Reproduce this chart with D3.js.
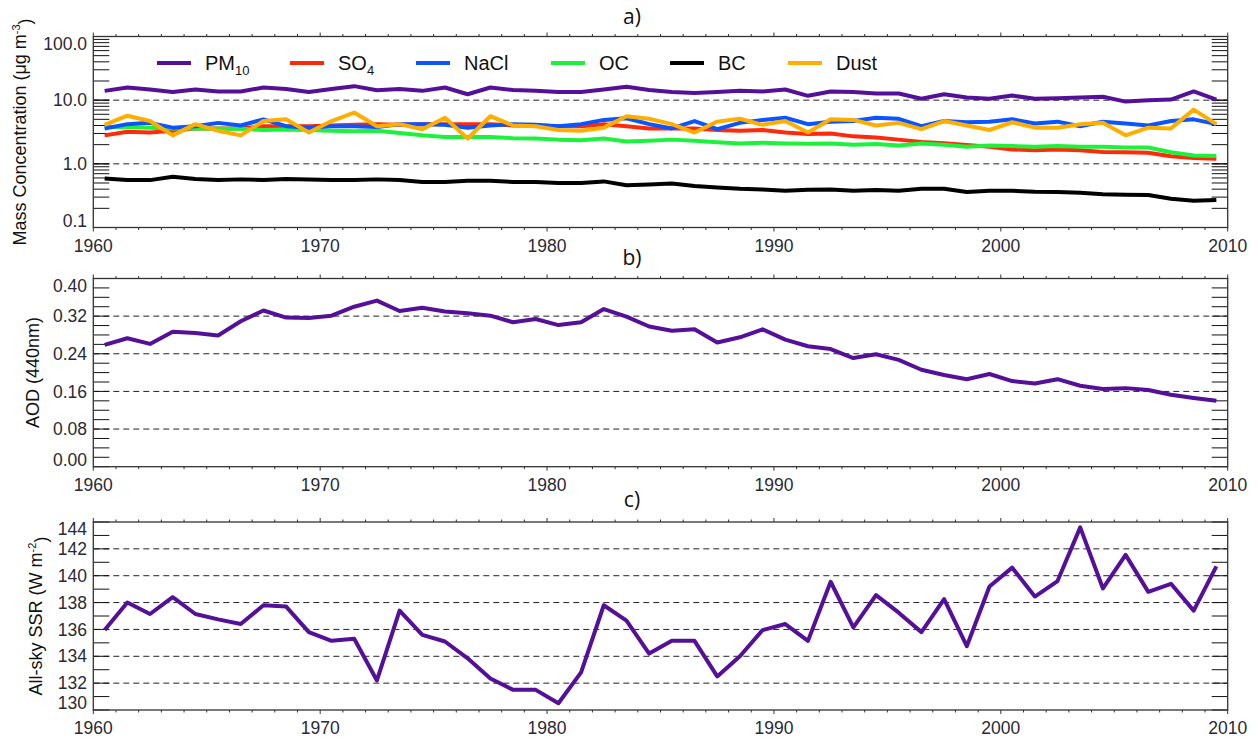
<!DOCTYPE html>
<html>
<head>
<meta charset="utf-8">
<script src="https://cdn.jsdelivr.net/npm/d3@7"></script>
<style>
  body { margin: 0; background: #fff; }
  svg { display: block; }
  text { font-family: "Liberation Sans", Arial, sans-serif; }
</style>
</head>
<body>
<svg id="chart" width="1258" height="742"></svg>
<script>
// ---------------- DATA ----------------
const years = d3.range(1960, 2010);
const pm10 = [14.0, 15.8, 14.7, 13.4, 14.7, 13.7, 13.7, 15.8, 15.0, 13.4, 15.0, 16.6, 14.3, 15.0, 14.0, 15.8, 12.4, 15.8, 14.4, 14.0, 13.4, 13.4, 14.7, 16.2, 14.4, 13.4, 13.0, 13.4, 14.0, 13.7, 14.7, 11.7, 13.7, 13.4, 12.7, 12.7, 10.5, 12.4, 11.0, 10.5, 11.8, 10.5, 10.7, 11.0, 11.3, 9.5, 10.0, 10.2, 13.7, 10.2];
const so4 = [2.8, 3.2, 3.1, 3.3, 3.6, 3.6, 3.6, 3.9, 3.9, 3.9, 4.0, 4.1, 4.2, 4.1, 4.2, 4.2, 4.2, 4.2, 4.0, 4.0, 3.9, 3.9, 4.2, 3.9, 3.6, 3.6, 3.6, 3.4, 3.3, 3.4, 3.1, 2.95, 3.0, 2.7, 2.6, 2.4, 2.2, 2.1, 1.97, 1.85, 1.68, 1.64, 1.68, 1.64, 1.54, 1.52, 1.49, 1.32, 1.23, 1.2];
const nacl = [3.6, 4.2, 4.4, 3.7, 3.9, 4.4, 4.0, 5.0, 3.9, 3.7, 3.9, 3.9, 3.8, 4.2, 4.2, 4.1, 3.7, 4.0, 4.2, 4.1, 3.9, 4.2, 4.9, 5.2, 4.2, 3.6, 4.7, 3.5, 4.4, 4.9, 5.3, 4.2, 4.6, 4.7, 5.3, 5.1, 3.9, 4.7, 4.5, 4.6, 5.0, 4.3, 4.6, 3.9, 4.6, 4.3, 4.0, 4.7, 5.0, 4.2];
const oc = [3.8, 3.8, 3.7, 3.6, 3.6, 3.55, 3.55, 3.4, 3.45, 3.4, 3.3, 3.25, 3.3, 3.05, 2.8, 2.65, 2.65, 2.65, 2.53, 2.5, 2.4, 2.35, 2.5, 2.24, 2.3, 2.4, 2.3, 2.19, 2.09, 2.14, 2.09, 2.07, 2.09, 1.99, 2.05, 1.94, 2.09, 1.99, 1.85, 1.94, 1.9, 1.85, 1.9, 1.85, 1.85, 1.81, 1.81, 1.52, 1.35, 1.33];
const bc = [0.59, 0.555, 0.555, 0.625, 0.58, 0.555, 0.57, 0.555, 0.58, 0.57, 0.555, 0.555, 0.57, 0.555, 0.52, 0.52, 0.54, 0.54, 0.52, 0.52, 0.50, 0.50, 0.53, 0.46, 0.475, 0.49, 0.45, 0.425, 0.405, 0.395, 0.377, 0.39, 0.395, 0.377, 0.387, 0.377, 0.405, 0.405, 0.36, 0.377, 0.377, 0.364, 0.36, 0.35, 0.334, 0.327, 0.323, 0.282, 0.263, 0.27];
const dust = [4.1, 5.7, 4.7, 2.8, 4.2, 3.3, 2.8, 4.7, 5.0, 3.1, 4.7, 6.4, 3.9, 4.2, 3.5, 5.3, 2.5, 5.6, 4.0, 3.9, 3.4, 3.3, 3.7, 5.6, 5.1, 4.2, 3.1, 4.6, 5.1, 4.1, 4.7, 3.1, 5.0, 4.9, 4.0, 4.4, 3.5, 4.7, 4.0, 3.4, 4.5, 3.7, 3.7, 4.2, 4.4, 2.8, 3.7, 3.6, 7.1, 4.2];
const aod = [0.259, 0.273, 0.261, 0.287, 0.284, 0.279, 0.309, 0.332, 0.317, 0.316, 0.321, 0.340, 0.353, 0.331, 0.338, 0.330, 0.326, 0.321, 0.307, 0.314, 0.301, 0.307, 0.335, 0.319, 0.298, 0.289, 0.292, 0.264, 0.275, 0.292, 0.270, 0.256, 0.250, 0.231, 0.239, 0.227, 0.206, 0.195, 0.186, 0.197, 0.182, 0.177, 0.186, 0.172, 0.165, 0.167, 0.163, 0.153, 0.146, 0.140];
const ssr = [135.96, 138.0, 137.15, 138.4, 137.15, 136.75, 136.4, 137.8, 137.7, 135.8, 135.15, 135.3, 132.2, 137.4, 135.6, 135.1, 133.85, 132.35, 131.5, 131.5, 130.5, 132.8, 137.8, 136.65, 134.2, 135.15, 135.15, 132.5, 134.0, 135.95, 136.4, 135.15, 139.55, 136.15, 138.55, 137.25, 135.8, 138.25, 134.75, 139.2, 140.6, 138.45, 139.6, 143.6, 139.05, 141.55, 138.8, 139.4, 137.4, 140.7];

const xTickYears = [1960, 1970, 1980, 1990, 2000, 2010];
const massTicks = [0.1, 1.0, 10.0, 100.0];
const massTickLabels = ["0.1", "1.0", "10.0", "100.0"];
const massGrid = [1, 10];
const aodTicks = [0, 0.08, 0.16, 0.24, 0.32, 0.40];
const aodGrid = [0.08, 0.16, 0.24, 0.32];
const ssrTicks = [130, 132, 134, 136, 138, 140, 142, 144];
const ssrGrid = [132, 134, 136, 138, 140, 142];

const seriesNames = ["PM10", "SO4", "NaCl", "OC", "BC", "Dust"];
const seriesColors = ["#55109a", "#ff2a0a", "#0a55ff", "#1cf23c", "#000000", "#ffae00"];
const seriesData = [pm10, so4, nacl, oc, bc, dust];

// ---------------- LAYOUT ----------------
const svg = d3.select("#chart");
const X0 = 93.3, X1 = 1227.7;
const x = d3.scaleLinear().domain([1960, 2010]).range([X0, X1]);
const frameColor = "#333";
const tickTextColor = "#2a2a35";
const tickFont = 17.5;
const labelFont = 18;

function panel(opts) {
  const { y, top, bottom, yTicks, yTickFmt, minorTicks, grid, title, titleY, ylabel, ylabelX } = opts;
  const g = svg.append("g");

  g.selectAll(".grid").data(grid).enter().append("line")
    .attr("x1", X0).attr("x2", X1)
    .attr("y1", d => y(d)).attr("y2", d => y(d))
    .attr("stroke", "#222").attr("stroke-width", 1)
    .attr("stroke-dasharray", "6,4");

  g.selectAll(".ytl").data(minorTicks).enter().append("line")
    .attr("x1", X0).attr("x2", X0 + 16)
    .attr("y1", d => y(d)).attr("y2", d => y(d))
    .attr("stroke", "#111").attr("stroke-width", 1);
  g.selectAll(".ytr").data(minorTicks).enter().append("line")
    .attr("x1", X1).attr("x2", X1 - 16)
    .attr("y1", d => y(d)).attr("y2", d => y(d))
    .attr("stroke", "#111").attr("stroke-width", 1);

  const yrs = d3.range(1960, 2011);
  yrs.forEach(yr => {
    const major = yr % 10 === 0;
    const len = major ? 4 : 2.5;
    g.append("line").attr("x1", x(yr)).attr("x2", x(yr))
      .attr("y1", top).attr("y2", top - len).attr("stroke", frameColor).attr("stroke-width", 1);
    g.append("line").attr("x1", x(yr)).attr("x2", x(yr))
      .attr("y1", bottom).attr("y2", bottom + len).attr("stroke", frameColor).attr("stroke-width", 1);
  });

  g.selectAll(".xl").data(xTickYears).enter().append("text")
    .attr("x", d => x(d)).attr("y", bottom + 18)
    .attr("dy", "0.35em").attr("text-anchor", "middle")
    .attr("font-size", tickFont).attr("fill", tickTextColor)
    .text(d => d);

  const n = yTicks.length;
  g.selectAll(".yl").data(yTicks).enter().append("text")
    .attr("x", 87)
    .attr("y", (d, i) => y(d) + (i === 0 ? -7 : (i === n - 1 ? 7 : 0)))
    .attr("dy", "0.35em").attr("text-anchor", "end")
    .attr("font-size", tickFont).attr("fill", tickTextColor)
    .text((d, i) => yTickFmt(d, i));

  g.append("rect").attr("x", X0).attr("y", top)
    .attr("width", X1 - X0).attr("height", bottom - top)
    .attr("fill", "none").attr("stroke", frameColor).attr("stroke-width", 1.3);

  svg.append("text").attr("x", 632).attr("y", titleY)
    .attr("text-anchor", "middle").attr("dy", "0.35em")
    .attr("font-size", 21).attr("fill", "#111")
    .style("font-family", "'Open Sans', 'Liberation Sans', sans-serif")
    .text(title);

  const yl = svg.append("text")
    .attr("transform", `translate(${ylabelX},${(top + bottom) / 2}) rotate(-90)`)
    .attr("text-anchor", "middle").attr("dy", "0.35em")
    .attr("font-size", labelFont).attr("fill", "#111");
  ylabel(yl);
  return g;
}

// ---------- Panel a ----------
const yA = d3.scaleLog().domain([0.1, 100]).range([227.5, 36.5]);
const minorA = [];
[0.1, 1, 10].forEach(dec => { for (let k = 1; k <= 10; k++) minorA.push(dec * k); });
panel({
  y: yA, top: 36.5, bottom: 227.5,
  yTicks: massTicks, yTickFmt: (d, i) => massTickLabels[i],
  minorTicks: minorA, grid: massGrid,
  title: "a)", titleY: 17, ylabelX: 20,
  ylabel: t => {
    t.append("tspan").text("Mass Concentration (μg m");
    t.append("tspan").attr("font-size", 11).attr("dy", "-0.6em").text("-3");
    t.append("tspan").attr("dy", "0.6em").text(")");
  }
});
const lineA = d3.line().x((d, i) => x(years[i] + 0.5)).y(d => yA(d));
const drawOrder = [4, 0, 1, 3, 2, 5];
drawOrder.forEach(k => {
  svg.append("path").datum(seriesData[k])
    .attr("d", lineA).attr("fill", "none")
    .attr("stroke", seriesColors[k]).attr("stroke-width", 4)
    .attr("stroke-linejoin", "round");
});

// legend
const legendX = [157, 290, 416, 551, 670, 788];
const legY = 63;
seriesNames.forEach((name, i) => {
  svg.append("line").attr("x1", legendX[i]).attr("x2", legendX[i] + 34)
    .attr("y1", legY).attr("y2", legY)
    .attr("stroke", seriesColors[i]).attr("stroke-width", 4);
  const t = svg.append("text").attr("x", legendX[i] + 48).attr("y", legY)
    .attr("dy", "0.35em").attr("font-size", 20).attr("fill", "#111");
  if (name === "PM10") {
    t.append("tspan").text("PM");
    t.append("tspan").attr("font-size", 13).attr("dy", "0.35em").text("10");
  } else if (name === "SO4") {
    t.append("tspan").text("SO");
    t.append("tspan").attr("font-size", 13).attr("dy", "0.35em").text("4");
  } else {
    t.text(name);
  }
});

// ---------- Panel b ----------
const yB = d3.scaleLinear().domain([0, 0.4]).range([466.7, 278.5]);
panel({
  y: yB, top: 278.5, bottom: 466.7,
  yTicks: aodTicks, yTickFmt: d => d3.format(".2f")(d),
  minorTicks: d3.range(0, 0.401, 0.02), grid: aodGrid,
  title: "b)", titleY: 258, ylabelX: 33,
  ylabel: t => t.text("AOD (440nm)")
});
svg.append("path").datum(aod)
  .attr("d", d3.line().x((d, i) => x(years[i] + 0.5)).y(d => yB(d)))
  .attr("fill", "none").attr("stroke", seriesColors[0]).attr("stroke-width", 4)
  .attr("stroke-linejoin", "round");

// ---------- Panel c ----------
const yC = d3.scaleLinear().domain([130, 144]).range([710, 522]);
panel({
  y: yC, top: 522, bottom: 710,
  yTicks: ssrTicks, yTickFmt: d => d,
  minorTicks: d3.range(130, 145, 1), grid: ssrGrid,
  title: "c)", titleY: 500, ylabelX: 36,
  ylabel: t => {
    t.append("tspan").text("All-sky SSR (W m");
    t.append("tspan").attr("font-size", 11).attr("dy", "-0.6em").text("-2");
    t.append("tspan").attr("dy", "0.6em").text(")");
  }
});
svg.append("path").datum(ssr)
  .attr("d", d3.line().x((d, i) => x(years[i] + 0.5)).y(d => yC(d)))
  .attr("fill", "none").attr("stroke", seriesColors[0]).attr("stroke-width", 4)
  .attr("stroke-linejoin", "round");
</script>
</body>
</html>
